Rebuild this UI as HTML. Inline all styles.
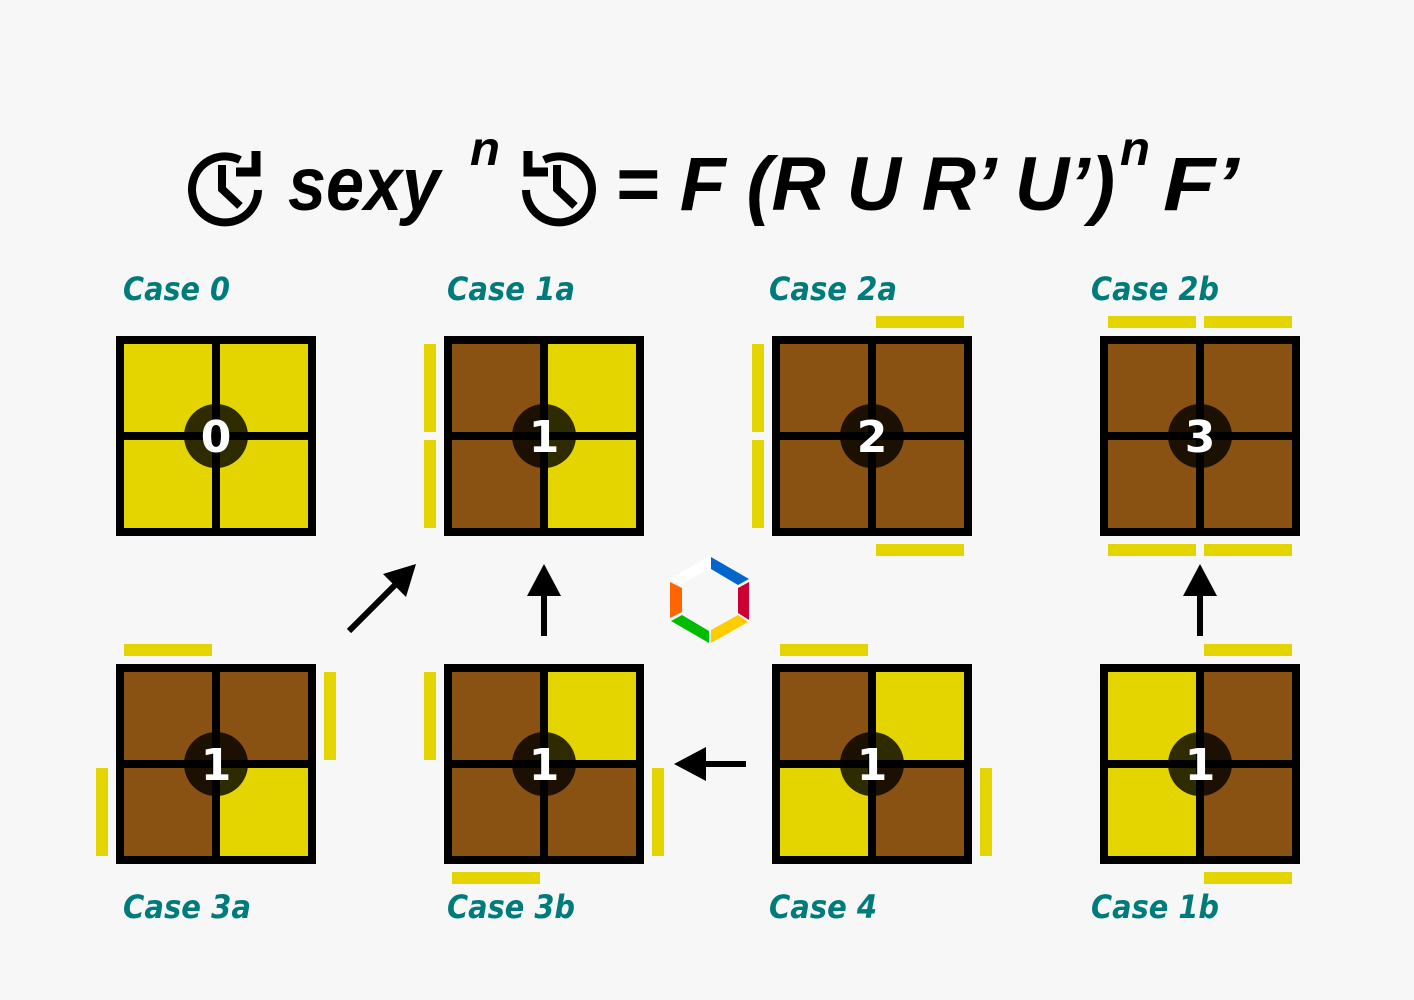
<!DOCTYPE html>
<html><head><meta charset="utf-8"><style>
html,body{margin:0;padding:0;background:#f7f7f7;}
svg{display:block}
</style></head><body>
<svg width="1414" height="1000" viewBox="0 0 1414 1000" xmlns="http://www.w3.org/2000/svg">
<rect width="1414" height="1000" fill="#f7f7f7"/>
<defs>
<g id="ring">
  <path d="M 258 190 A 33 33 0 1 1 240 160" fill="none" stroke="#000" stroke-width="8"/>
  <path d="M 236 172 L 256 172 L 256 151" fill="none" stroke="#000" stroke-width="9"/>
</g>
</defs>
<use href="#ring"/>
<path d="M 222 165 L 222 189 L 240 206" fill="none" stroke="#000" stroke-width="8"/>
<use href="#ring" transform="translate(784,0) scale(-1,1)"/>
<path d="M 557 165 L 557 189 L 575 206" fill="none" stroke="#000" stroke-width="8"/>
<g font-family="Liberation Sans, DejaVu Sans, sans-serif" font-weight="bold" font-style="italic" fill="#000">
<text x="288" y="210" font-size="76" textLength="152" lengthAdjust="spacingAndGlyphs">sexy</text>
<text x="470" y="165" font-size="48" textLength="30" lengthAdjust="spacingAndGlyphs">n</text>
<text x="615" y="210" font-size="76" textLength="500" lengthAdjust="spacingAndGlyphs">= F (R U R’ U’)</text>
<text x="1120" y="165" font-size="48" textLength="30" lengthAdjust="spacingAndGlyphs">n</text>
<text x="1163" y="210" font-size="76" textLength="76" lengthAdjust="spacingAndGlyphs">F’</text>
</g>
<g font-family="DejaVu Sans, Liberation Sans, sans-serif" font-weight="bold" font-style="italic" fill="#007b7b" font-size="32" lengthAdjust="spacingAndGlyphs">
<text x="123" y="300" textLength="107" lengthAdjust="spacingAndGlyphs">Case 0</text>
<text x="447" y="300" textLength="128" lengthAdjust="spacingAndGlyphs">Case 1a</text>
<text x="769" y="300" textLength="128" lengthAdjust="spacingAndGlyphs">Case 2a</text>
<text x="1091" y="300" textLength="128" lengthAdjust="spacingAndGlyphs">Case 2b</text>
<text x="123" y="918" textLength="128" lengthAdjust="spacingAndGlyphs">Case 3a</text>
<text x="447" y="918" textLength="128" lengthAdjust="spacingAndGlyphs">Case 3b</text>
<text x="769" y="918" textLength="108" lengthAdjust="spacingAndGlyphs">Case 4</text>
<text x="1091" y="918" textLength="128" lengthAdjust="spacingAndGlyphs">Case 1b</text>
</g>
<g>
<rect x="116" y="336" width="200" height="200" fill="#000"/>
<rect x="124" y="344" width="88" height="88" fill="#e4d400"/><rect x="220" y="344" width="88" height="88" fill="#e4d400"/>
<rect x="124" y="440" width="88" height="88" fill="#e4d400"/><rect x="220" y="440" width="88" height="88" fill="#e4d400"/>
<rect x="444" y="336" width="200" height="200" fill="#000"/>
<rect x="452" y="344" width="88" height="88" fill="#8a5212"/><rect x="548" y="344" width="88" height="88" fill="#e4d400"/>
<rect x="452" y="440" width="88" height="88" fill="#8a5212"/><rect x="548" y="440" width="88" height="88" fill="#e4d400"/>
<rect x="772" y="336" width="200" height="200" fill="#000"/>
<rect x="780" y="344" width="88" height="88" fill="#8a5212"/><rect x="876" y="344" width="88" height="88" fill="#8a5212"/>
<rect x="780" y="440" width="88" height="88" fill="#8a5212"/><rect x="876" y="440" width="88" height="88" fill="#8a5212"/>
<rect x="1100" y="336" width="200" height="200" fill="#000"/>
<rect x="1108" y="344" width="88" height="88" fill="#8a5212"/><rect x="1204" y="344" width="88" height="88" fill="#8a5212"/>
<rect x="1108" y="440" width="88" height="88" fill="#8a5212"/><rect x="1204" y="440" width="88" height="88" fill="#8a5212"/>
<rect x="116" y="664" width="200" height="200" fill="#000"/>
<rect x="124" y="672" width="88" height="88" fill="#8a5212"/><rect x="220" y="672" width="88" height="88" fill="#8a5212"/>
<rect x="124" y="768" width="88" height="88" fill="#8a5212"/><rect x="220" y="768" width="88" height="88" fill="#e4d400"/>
<rect x="444" y="664" width="200" height="200" fill="#000"/>
<rect x="452" y="672" width="88" height="88" fill="#8a5212"/><rect x="548" y="672" width="88" height="88" fill="#e4d400"/>
<rect x="452" y="768" width="88" height="88" fill="#8a5212"/><rect x="548" y="768" width="88" height="88" fill="#8a5212"/>
<rect x="772" y="664" width="200" height="200" fill="#000"/>
<rect x="780" y="672" width="88" height="88" fill="#8a5212"/><rect x="876" y="672" width="88" height="88" fill="#e4d400"/>
<rect x="780" y="768" width="88" height="88" fill="#e4d400"/><rect x="876" y="768" width="88" height="88" fill="#8a5212"/>
<rect x="1100" y="664" width="200" height="200" fill="#000"/>
<rect x="1108" y="672" width="88" height="88" fill="#e4d400"/><rect x="1204" y="672" width="88" height="88" fill="#8a5212"/>
<rect x="1108" y="768" width="88" height="88" fill="#e4d400"/><rect x="1204" y="768" width="88" height="88" fill="#8a5212"/>
</g>
<g fill="#e4d400">
<rect x="424" y="344" width="12" height="88"/><rect x="424" y="440" width="12" height="88"/>
<rect x="876" y="316" width="88" height="12"/><rect x="752" y="344" width="12" height="88"/><rect x="752" y="440" width="12" height="88"/><rect x="876" y="544" width="88" height="12"/>
<rect x="1108" y="316" width="88" height="12"/><rect x="1204" y="316" width="88" height="12"/><rect x="1108" y="544" width="88" height="12"/><rect x="1204" y="544" width="88" height="12"/>
<rect x="124" y="644" width="88" height="12"/><rect x="324" y="672" width="12" height="88"/><rect x="96" y="768" width="12" height="88"/>
<rect x="424" y="672" width="12" height="88"/><rect x="652" y="768" width="12" height="88"/><rect x="452" y="872" width="88" height="12"/>
<rect x="780" y="644" width="88" height="12"/><rect x="980" y="768" width="12" height="88"/>
<rect x="1204" y="644" width="88" height="12"/><rect x="1204" y="872" width="88" height="12"/>
</g>
<g fill="#000" fill-opacity="0.8">
<circle cx="216" cy="436" r="32"/><circle cx="544" cy="436" r="32"/><circle cx="872" cy="436" r="32"/><circle cx="1200" cy="436" r="32"/>
<circle cx="216" cy="764" r="32"/><circle cx="544" cy="764" r="32"/><circle cx="872" cy="764" r="32"/><circle cx="1200" cy="764" r="32"/>
</g>
<g font-family="DejaVu Sans, Liberation Sans, sans-serif" font-weight="bold" font-size="44" fill="#fff" text-anchor="middle">
<text x="216" y="452">0</text><text x="544" y="452">1</text><text x="872" y="452">2</text><text x="1200" y="452">3</text>
<text x="216" y="780">1</text><text x="544" y="780">1</text><text x="872" y="780">1</text><text x="1200" y="780">1</text>
</g>
<g fill="#000" stroke="none">
<rect x="541" y="590" width="6" height="46"/><polygon points="544,564 527,596 561,596"/>
<rect x="1197" y="590" width="6" height="46"/><polygon points="1200,564 1183,596 1217,596"/>
<rect x="700" y="761" width="46" height="6"/><polygon points="674,764 706,747 706,781"/>
<polygon points="416,564 406,597 383,574"/>
</g>
<line x1="349" y1="631" x2="398" y2="582" stroke="#000" stroke-width="6"/>
<g>
<polygon points="710,556 670,579 680,585 710,568 720,562" fill="#ffffff"/>
<polygon points="711,557 749,579 738,585 711,569" fill="#0066cc"/>
<polygon points="749,582 749,620 738,613 738,588" fill="#cc0033"/>
<polygon points="748,622 711,643 711,630 738,615" fill="#ffcc00"/>
<polygon points="709,643 671,621 682,615 709,631" fill="#00bb00"/>
<polygon points="670,618 670,582 682,588 682,612" fill="#ff6600"/>
</g>
</svg>
</body></html>
